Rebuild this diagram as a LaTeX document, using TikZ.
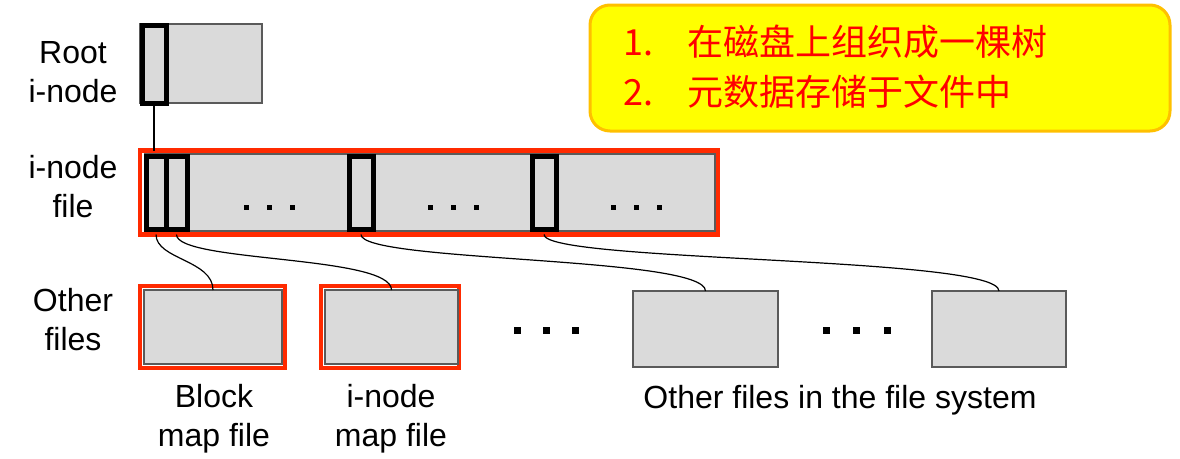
\documentclass[tikz,border=0pt]{standalone}
\usepackage{fontspec}
\setmainfont{Liberation Sans}
\newfontfamily\cjk{Noto Sans CJK SC}
\definecolor{boxgrey}{HTML}{DADADA}
\definecolor{edgegrey}{HTML}{5A5A5A}
\definecolor{markred}{HTML}{FF2A00}
\definecolor{noteyellow}{HTML}{FFFF00}
\definecolor{noteedge}{HTML}{FFC000}
\tikzset{
	blk/.style={draw=edgegrey,fill=boxgrey,line width=1.5pt,inner sep=0pt,outer sep=0pt,anchor=north west},
	ptr/.style={draw=black,line width=5pt,inner sep=0pt,outer sep=0pt,anchor=north west},
	hilite/.style={draw=markred,line width=4.5pt,inner sep=0pt,outer sep=0pt,anchor=north west},
	lbl/.style={align=center,font=\fontsize{32}{39}\selectfont},
	notetxt/.style={text=red,inner sep=0pt,anchor=base west,font=\cjk\fontsize{36}{40}\selectfont},
	link/.style={line width=1.2pt}
}

\begin{document}
\begin{tikzpicture}[x=1pt,y=-1pt]
	\useasboundingbox (0,0) rectangle (1180,458);
	% root i-node
	\node[blk,minimum width=122pt,minimum height=79pt] (rootblk) at (140,24) {};
	\node[ptr,minimum width=24pt,minimum height=78pt] (rootptr) at (142,25) {};
	\node[lbl] (rootlbl) at (73,72) {Root\\i-node};
	% i-node file
	\node[hilite,minimum width=578pt,minimum height=84pt] (filered) at (140,150.5) {};
	\node[blk,minimum width=570pt,minimum height=77pt] (fileblk) at (145,154) {};
	\node[ptr,minimum width=20pt,minimum height=73pt] (ptra) at (146,156) {};
	\node[ptr,minimum width=21pt,minimum height=73pt] (ptrb) at (166,156) {};
	\node[ptr,minimum width=24pt,minimum height=73pt] (ptrc) at (349,156) {};
	\node[ptr,minimum width=24pt,minimum height=73pt] (ptrd) at (532,156) {};
	\foreach \x in {246,269,292,430,453,476,613,636,659}
		\fill (\x-2.5,204.5) rectangle +(5,5);
	\node[lbl] (filelbl) at (73,187) {i-node\\file};
	% other files
	\node[hilite,minimum width=145pt,minimum height=82pt] (blockred) at (140,286) {};
	\node[blk,minimum width=138pt,minimum height=74pt] (blockblk) at (144,290) {};
	\node[hilite,minimum width=138pt,minimum height=82pt] (imapred) at (321,286) {};
	\node[blk,minimum width=133pt,minimum height=74pt] (imapblk) at (325,290) {};
	\node[blk,minimum width=145pt,minimum height=76pt] (othera) at (633,291) {};
	\node[blk,minimum width=134pt,minimum height=76pt] (otherb) at (932,291) {};
	\foreach \x in {517,546,575,826,856,887}
		\fill (\x-3.5,326.5) rectangle +(7,7);
	\node[lbl] (otherlbl) at (73,320) {Other\\files};
	\node[lbl] (blocklbl) at (214,419) {Block\\map file};
	\node[lbl] (imaplbl) at (391,419) {i-node\\map file};
	\node[lbl] (restlbl) at (840,400) {Other files in the file system};
	% links
	\draw[link] (rootptr.south) -- (rootptr.south |- filered.north);
	\draw[link] (ptra.south |- filered.south) .. controls +(0,25) and +(0,-30) .. (blockblk.north);
	\draw[link] (ptrb.south |- filered.south) .. controls +(0,28) and +(0,-35) .. (imapblk.north);
	\draw[link] (ptrc.south |- filered.south) .. controls +(0,28) and +(0,-35) .. (othera.north);
	\draw[link] (ptrd.south |- filered.south) .. controls +(0,28) and +(0,-35) .. (otherb.north);
	% note
	\node[draw=noteedge,fill=noteyellow,line width=3pt,rounded corners=20pt,inner sep=0pt,anchor=north west,minimum width=580pt,minimum height=126pt] (note) at (588.5,3.5) {};
	\node[notetxt] (numa) at (623,55) {1.};
	\node[notetxt] (itema) at (687,55) {在磁盘上组织成一棵树};
	\node[notetxt] (numb) at (623,105) {2.};
	\node[notetxt] (itemb) at (687,105) {元数据存储于文件中};
\end{tikzpicture}
\end{document}
